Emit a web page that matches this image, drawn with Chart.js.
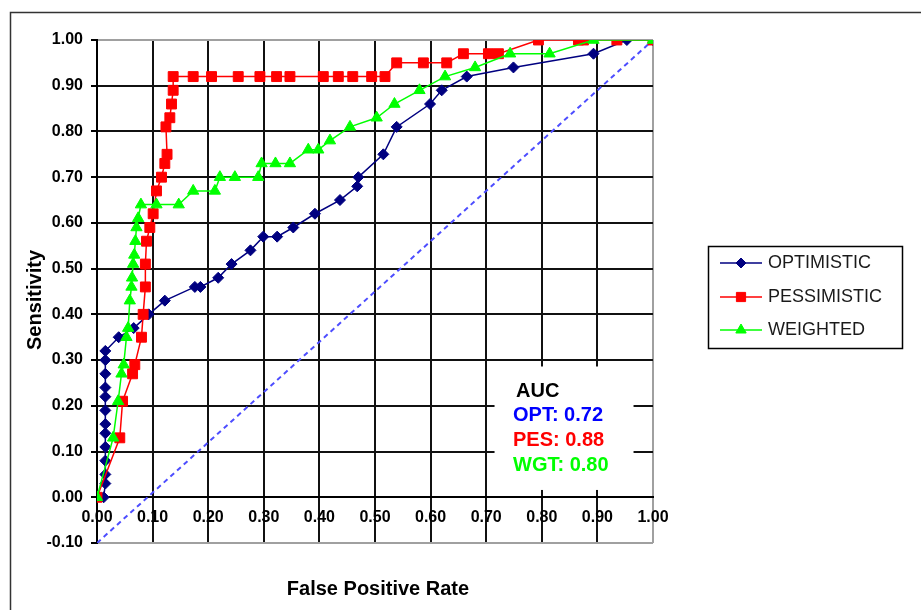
<!DOCTYPE html>
<html>
<head>
<meta charset="utf-8">
<script src="https://cdn.jsdelivr.net/npm/chart.js@4.4.1/dist/chart.umd.min.js"></script>
<style>
  html, body { margin: 0; padding: 0; background: #fff; }
</style>
</head>
<body>
<canvas id="roc" width="921" height="610"></canvas>
<script>
// ROC curves (false positive rate / sensitivity)
const optFpr = [0.012, 0.015, 0.015, 0.015, 0.015, 0.015, 0.015, 0.015, 0.015, 0.015, 0.015, 0.015, 0.015,
  0.039, 0.066, 0.093, 0.122, 0.176, 0.186, 0.218, 0.242, 0.276, 0.299, 0.324, 0.353, 0.392, 0.437,
  0.468, 0.470, 0.515, 0.539, 0.599, 0.620, 0.665, 0.749, 0.893, 0.953, 1.0];
const optTpr = [0.00, 0.03, 0.05, 0.08, 0.11, 0.14, 0.16, 0.19, 0.22, 0.24, 0.27, 0.30, 0.32,
  0.35, 0.37, 0.40, 0.43, 0.46, 0.46, 0.48, 0.51, 0.54, 0.57, 0.57, 0.59, 0.62, 0.65,
  0.68, 0.70, 0.75, 0.81, 0.86, 0.89, 0.92, 0.94, 0.97, 1.0, 1.0];

const pesFpr = [0.0, 0.041, 0.046, 0.064, 0.068, 0.080, 0.083, 0.087, 0.087, 0.089, 0.095, 0.101, 0.107,
  0.116, 0.122, 0.126, 0.124, 0.131, 0.134, 0.137, 0.137, 0.173, 0.206, 0.254, 0.293, 0.323, 0.347,
  0.407, 0.434, 0.460, 0.494, 0.518, 0.539, 0.587, 0.629, 0.659, 0.704, 0.722, 0.794, 0.866, 0.875,
  0.935, 1.0];
const pesTpr = [0.0, 0.13, 0.21, 0.27, 0.29, 0.35, 0.40, 0.46, 0.51, 0.56, 0.59, 0.62, 0.67,
  0.70, 0.73, 0.75, 0.81, 0.83, 0.86, 0.89, 0.92, 0.92, 0.92, 0.92, 0.92, 0.92, 0.92,
  0.92, 0.92, 0.92, 0.92, 0.92, 0.95, 0.95, 0.95, 0.97, 0.97, 0.97, 1.0, 1.0, 1.0,
  1.0, 1.0];

const wgtFpr = [0.0, 0.029, 0.038, 0.044, 0.048, 0.053, 0.056, 0.059, 0.062, 0.063, 0.065, 0.067, 0.069,
  0.071, 0.074, 0.079, 0.107, 0.147, 0.173, 0.212, 0.221, 0.248, 0.290, 0.296, 0.321, 0.347, 0.380,
  0.398, 0.419, 0.455, 0.503, 0.535, 0.580, 0.626, 0.680, 0.743, 0.814, 0.893, 1.0];
const wgtTpr = [0.0, 0.13, 0.21, 0.27, 0.29, 0.35, 0.37, 0.43, 0.46, 0.48, 0.51, 0.53, 0.56,
  0.59, 0.61, 0.64, 0.64, 0.64, 0.67, 0.67, 0.70, 0.70, 0.70, 0.73, 0.73, 0.73, 0.76,
  0.76, 0.78, 0.81, 0.83, 0.86, 0.89, 0.92, 0.94, 0.97, 0.97, 1.0, 1.0];

// chance diagonal, drawn across the whole plot
const diagFpr = [0.0, 1.0];
const diagTpr = [-0.1, 1.0];

const seriesNames = ["OPTIMISTIC", "PESSIMISTIC", "WEIGHTED"];
const aucNames = ["OPT", "PES", "WGT"];
const aucValues = [0.72, 0.88, 0.80];

const xTickValues = [0, 0.1, 0.2, 0.3, 0.4, 0.5, 0.6, 0.7, 0.8, 0.9, 1.0];
const yTickValues = [-0.1, 0, 0.1, 0.2, 0.3, 0.4, 0.5, 0.6, 0.7, 0.8, 0.9, 1.0];

const colors = ["#000080", "#ff0000", "#00ff00"];
const aucColors = ["#0000ff", "#ff0000", "#00ff00"];
const markers = ["rectRot", "rect", "triangle"];
const markerSize = [5.5, 7, 6.5];

const toPoints = (xs, ys) => xs.map((x, i) => ({ x: x, y: ys[i] }));

Chart.defaults.font.family = "'Liberation Sans', Arial, sans-serif";
Chart.defaults.color = "#000";

const rocDecor = {
  id: "rocDecor",
  beforeDraw(chart) {
    const c = chart.ctx;
    c.save();
    c.fillStyle = "#fff";
    c.fillRect(0, 0, chart.width, chart.height);
    c.strokeStyle = "#333";
    c.lineWidth = 1.5;
    c.strokeRect(10.5, 12.5, chart.width, chart.height);
    c.restore();
  },
  beforeDatasetsDraw(chart) {
    // the AUC text box hides the grid behind it
    const xs = chart.scales.x, ys = chart.scales.y;
    const l = xs.getPixelForValue(0.715), r = xs.getPixelForValue(0.965);
    const t = ys.getPixelForValue(0.286), b = ys.getPixelForValue(0.016);
    const c = chart.ctx;
    c.save();
    c.fillStyle = "#fff";
    c.fillRect(l, t, r - l, b - t);
    c.restore();
  },
  afterDraw(chart) {
    const c = chart.ctx;
    const area = chart.chartArea;
    c.save();

    // axis titles
    c.fillStyle = "#000";
    c.font = "bold 20px 'Liberation Sans', Arial, sans-serif";
    c.textAlign = "center";
    c.textBaseline = "middle";
    c.fillText("False Positive Rate", (area.left + area.right) / 2 + 3, 589);
    c.save();
    c.translate(35, 300);
    c.rotate(-Math.PI / 2);
    c.fillText("Sensitivity", 0, 0);
    c.restore();

    // AUC block
    c.textAlign = "left";
    c.fillText("AUC", 516, 391);
    aucNames.forEach((n, i) => {
      c.fillStyle = aucColors[i];
      c.fillText(n + ": " + aucValues[i].toFixed(2), 513, 415.5 + i * 25);
    });

    // legend
    c.strokeStyle = "#000";
    c.lineWidth = 1.5;
    c.strokeRect(708.5, 246.5, 194, 102);
    c.font = "18px 'Liberation Sans', Arial, sans-serif";
    const rows = [263, 297, 330];
    seriesNames.forEach((name, i) => {
      const y = rows[i];
      c.strokeStyle = colors[i];
      c.lineWidth = 1.5;
      c.beginPath();
      c.moveTo(720, y);
      c.lineTo(762, y);
      c.stroke();
      c.fillStyle = colors[i];
      c.lineWidth = 1;
      Chart.helpers.drawPoint(c, { pointStyle: markers[i], radius: markerSize[i] - 0.5, borderWidth: 1 }, 741, y);
      c.fillStyle = "#1a1a1a";
      c.fillText(name, 768, y);
    });
    c.restore();
  }
};

const seriesData = [
  toPoints(optFpr, optTpr),
  toPoints(pesFpr, pesTpr),
  toPoints(wgtFpr, wgtTpr)
];

const datasets = seriesData.map((pts, i) => ({
  label: seriesNames[i],
  data: pts,
  showLine: true,
  borderColor: colors[i],
  backgroundColor: colors[i],
  borderWidth: 1.5,
  pointStyle: markers[i],
  pointRadius: markerSize[i],
  pointBorderWidth: 1,
  order: 3 - i
}));

datasets.push({
  label: "diagonal",
  data: toPoints(diagFpr, diagTpr),
  showLine: true,
  borderColor: "#4d4dff",
  borderWidth: 2,
  borderDash: [5, 4],
  pointRadius: 0,
  order: 4
});

const isEdge = (v) => Math.abs(v - 1) < 1e-6 || Math.abs(v + 0.1) < 1e-6;

new Chart(document.getElementById("roc"), {
  type: "scatter",
  data: { datasets: datasets },
  plugins: [rocDecor],
  options: {
    responsive: false,
    animation: false,
    layout: { padding: { left: 10, top: 40, right: 268, bottom: 67 } },
    plugins: {
      legend: { display: false },
      tooltip: { enabled: false }
    },
    scales: {
      x: {
        type: "linear",
        position: { y: 0 },
        min: 0,
        max: 1,
        afterBuildTicks: (s) => { s.ticks = xTickValues.map((v) => ({ value: v })); },
        ticks: {
          padding: 11,
          maxRotation: 0,
          autoSkip: false,
          font: { size: 16, weight: "bold" },
          callback: (v) => Number(v).toFixed(2)
        },
        grid: {
          drawTicks: false,
          lineWidth: 2,
          color: (ctx) => (ctx.tick && Math.abs(ctx.tick.value - 1) < 1e-6 ? "#a0a0a0" : "#111")
        },
        border: { display: true, color: "#000", width: 2 }
      },
      y: {
        type: "linear",
        position: "left",
        min: -0.1,
        max: 1.0,
        afterBuildTicks: (s) => { s.ticks = yTickValues.map((v) => ({ value: v })); },
        afterFit: (s) => { s.width = 87; },
        ticks: {
          padding: 8,
          autoSkip: false,
          font: { size: 16, weight: "bold" },
          callback: (v) => Number(v).toFixed(2)
        },
        grid: {
          tickLength: 6,
          lineWidth: 2,
          tickColor: "#000",
          color: (ctx) => (ctx.tick && isEdge(ctx.tick.value) ? "#a0a0a0" : "#111")
        },
        border: { display: true, color: "#000", width: 2 }
      }
    }
  }
});
</script>
</body>
</html>
